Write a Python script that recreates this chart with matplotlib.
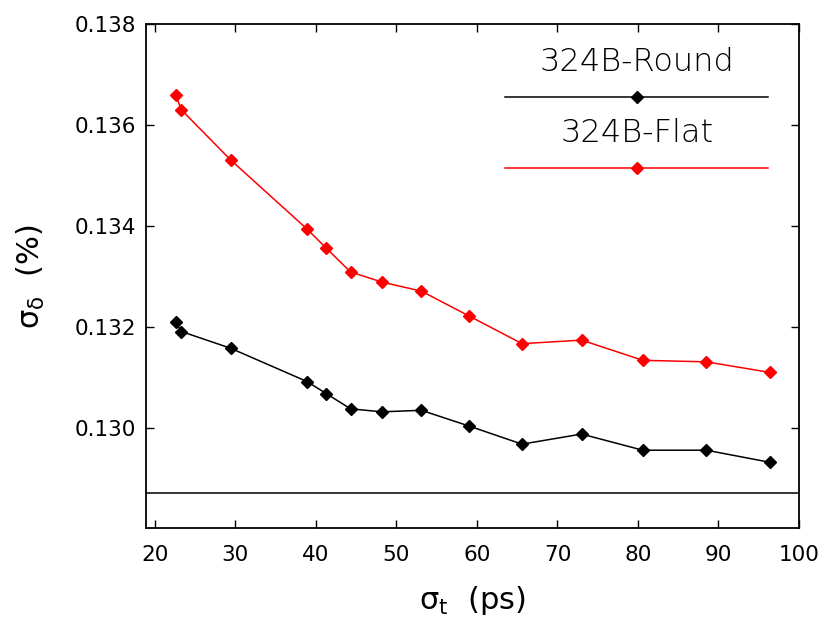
import matplotlib
matplotlib.use('Agg')
import matplotlib.pyplot as plt
from matplotlib.lines import Line2D

# bunch length (ps) and energy spread (%)
sigma_t = [22.6, 23.3, 29.4, 38.9, 41.3, 44.3, 48.2, 53.1, 59.0, 65.6, 73.0, 80.6, 88.5, 96.4]
round_spread = [0.13210, 0.13191, 0.13158, 0.13092, 0.13068, 0.13038, 0.13032, 0.13035,
                0.13004, 0.12968, 0.12988, 0.12956, 0.12956, 0.12932]
flat_spread = [0.13659, 0.13630, 0.13531, 0.13394, 0.13356, 0.13309, 0.13289, 0.13271,
               0.13222, 0.13167, 0.13174, 0.13134, 0.13131, 0.13110]
natural_spread = 0.12871
labels = ['324B-Round', '324B-Flat']
xticks = [20, 30, 40, 50, 60, 70, 80, 90, 100]
yticks = [0.130, 0.132, 0.134, 0.136, 0.138]

plt.rcParams['font.family'] = ['DejaVu Sans']
plt.rcParams['font.weight'] = 'light'
plt.rcParams['mathtext.fontset'] = 'dejavusans'
plt.rcParams['mathtext.default'] = 'regular'

fig = plt.figure(figsize=(8.28, 6.32), dpi=100)
ax = fig.add_axes([0.1763, 0.1646, 0.965 - 0.1763, 0.962 - 0.1646])

ax.plot(sigma_t, round_spread, color='black', lw=1.1, marker='D', ms=6.5)
ax.plot(sigma_t, flat_spread, color='red', lw=1.1, marker='D', ms=6.5)
ax.axhline(natural_spread, color='black', lw=1.1)

ax.set_xlim(18.9, 100)
ax.set_ylim(0.12802, 0.138)
ax.set_xticks(xticks)
ax.set_yticks(yticks)
ax.set_yticklabels(['%.3f' % v for v in yticks])
ax.tick_params(direction='in', length=6, width=1, top=True, right=True, labelsize=15.5)
ax.tick_params(axis='x', pad=12)
ax.tick_params(axis='y', pad=7)
for lbl in ax.get_xticklabels() + ax.get_yticklabels():
    lbl.set_fontweight('normal')
for s in ax.spines.values():
    s.set_linewidth(1.3)

ax.set_xlabel(r'$\sigma_t$  (ps)', fontsize=22, labelpad=14)
ax.set_ylabel(r'$\sigma_\delta$  (%)', fontsize=22, labelpad=20)

# IDL-style legend: label above a line with a marker
for lab, col, ty, ly in [(labels[0], 'black', 0.925, 0.855), (labels[1], 'red', 0.784, 0.714)]:
    ax.text(0.752, ty, lab, transform=ax.transAxes, ha='center', va='center', fontsize=23)
    ax.add_line(Line2D([0.550, 0.9525], [ly, ly], transform=ax.transAxes, color=col, lw=1.1))
    ax.add_line(Line2D([0.752], [ly], transform=ax.transAxes, color=col, marker='D', ms=6.5))

fig.savefig('out.png', dpi=100)
